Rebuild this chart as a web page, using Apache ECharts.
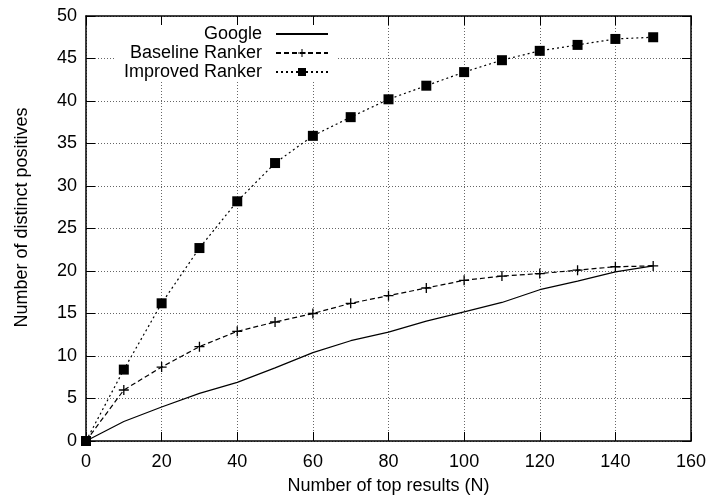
<!DOCTYPE html>
<html>
<head>
<meta charset="utf-8">
<script src="https://cdn.jsdelivr.net/npm/echarts@6/dist/echarts.min.js"></script>
<style>
  html, body { margin: 0; padding: 0; background: #fff; }
  #chart { width: 710px; height: 501px; }
</style>
</head>
<body>
<div id="chart"></div>
<script>
// number of top results (N)
const topN = [0, 10, 20, 30, 40, 50, 60, 70, 80, 90, 100, 110, 120, 130, 140, 150];
const google = [0, 2.3, 4.0, 5.6, 6.9, 8.6, 10.4, 11.8, 12.8, 14.1, 15.2, 16.3, 17.8, 18.8, 19.9, 20.6];
const baselineRanker = [0, 6.0, 8.7, 11.1, 12.9, 14.0, 15.0, 16.2, 17.1, 18.0, 18.9, 19.4, 19.7, 20.1, 20.5, 20.6];
const improvedRanker = [0, 8.4, 16.2, 22.7, 28.2, 32.7, 35.9, 38.1, 40.2, 41.8, 43.4, 44.8, 45.9, 46.6, 47.3, 47.5];
const seriesNames = ['Google', 'Baseline Ranker', 'Improved Ranker'];

const font = 'Liberation Sans, Arial, Helvetica, sans-serif';
const plusPath = 'path://M4.35,0 H5.65 V4.35 H10 V5.65 H5.65 V10 H4.35 V5.65 H0 V4.35 H4.35 Z';

function pairs(ys) {
  return topN.map((x, i) => [x, ys[i]]);
}

const chart = echarts.init(document.getElementById('chart'));

const tickStyle = { show: true, inside: true, length: 9, lineStyle: { color: '#000', width: 1 } };
const borderLine = { show: true, onZero: false, lineStyle: { color: '#000', width: 1.5 } };
const gridLine = { show: true, lineStyle: { color: '#666', width: 1, type: [1, 2] } };

const option = {
  animation: false,
  backgroundColor: '#fff',
  textStyle: { fontFamily: font },
  grid: { left: 86, right: 19, top: 16, bottom: 60 },
  legend: {
    orient: 'vertical',
    align: 'right',
    right: 372,
    top: 17,
    padding: [8, 9, 1, 8],
    backgroundColor: '#fff',
    itemWidth: 52,
    itemHeight: 10,
    itemGap: 1,
    textStyle: { fontSize: 18, color: '#000', fontFamily: font, padding: [0, 9, 0, 0] },
    data: [
      { name: seriesNames[0], itemStyle: { opacity: 0 } },
      { name: seriesNames[1] },
      { name: seriesNames[2] }
    ]
  },
  xAxis: [
    {
      type: 'value', min: 0, max: 160, interval: 20,
      name: 'Number of top results (N)', nameLocation: 'middle', nameGap: 36,
      nameTextStyle: { fontSize: 18, color: '#000', fontFamily: font },
      axisLine: borderLine, axisTick: tickStyle,
      axisLabel: { fontSize: 18, color: '#000', margin: 12, fontFamily: font },
      splitLine: gridLine
    },
    {
      type: 'value', position: 'top', min: 0, max: 160, interval: 20, z: 10,
      axisLine: borderLine, axisTick: tickStyle,
      axisLabel: { show: false }, splitLine: { show: false }
    }
  ],
  yAxis: [
    {
      type: 'value', min: 0, max: 50, interval: 5,
      name: 'Number of distinct positives', nameLocation: 'middle', nameGap: 55,
      nameTextStyle: { fontSize: 18, color: '#000', fontFamily: font, padding: [0, 0, 0, 22] },
      axisLine: borderLine, axisTick: tickStyle,
      axisLabel: { fontSize: 18, color: '#000', margin: 9, fontFamily: font },
      splitLine: gridLine
    },
    {
      type: 'value', position: 'right', min: 0, max: 50, interval: 5, z: 10,
      axisLine: borderLine, axisTick: tickStyle,
      axisLabel: { show: false }, splitLine: { show: false }
    }
  ],
  series: [
    {
      name: seriesNames[0], type: 'line', symbol: 'none',
      color: '#000',
      lineStyle: { color: '#000', width: 1.2, type: 'solid' },
      data: pairs(google)
    },
    {
      name: seriesNames[1], type: 'line', symbol: plusPath, symbolSize: 10,
      color: '#000',
      itemStyle: { color: '#000' },
      lineStyle: { color: '#000', width: 1.2, type: [5, 3] },
      data: pairs(baselineRanker)
    },
    {
      name: seriesNames[2], type: 'line', symbol: 'rect', symbolSize: 10,
      color: '#000',
      itemStyle: { color: '#000' },
      lineStyle: { color: '#000', width: 1.2, type: [2, 3] },
      data: pairs(improvedRanker)
    }
  ]
};

chart.setOption(option);
</script>
</body>
</html>
